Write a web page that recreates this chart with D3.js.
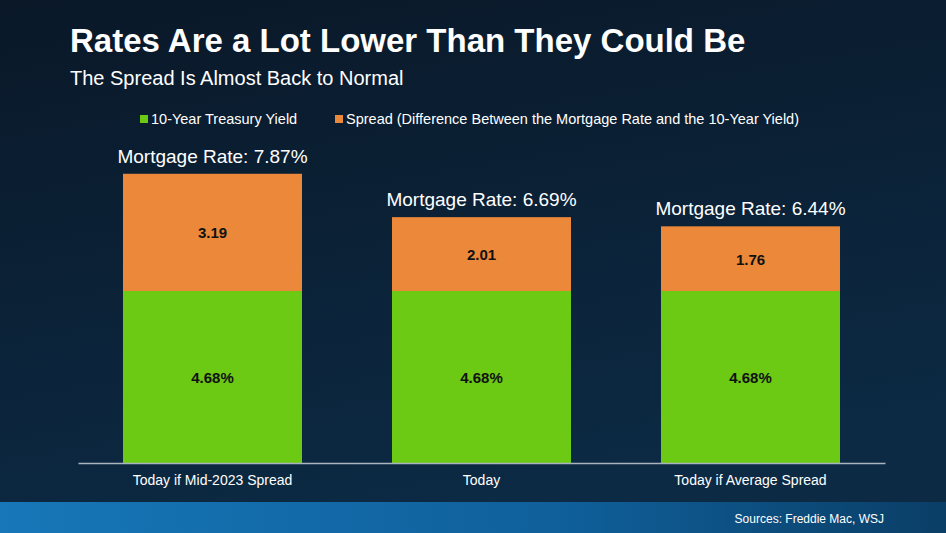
<!DOCTYPE html>
<html><head><meta charset="utf-8">
<script src="https://cdn.jsdelivr.net/npm/d3@7"></script>
<style>body{margin:0;background:#0b2238}svg{display:block;font-family:"Liberation Sans",Arial,sans-serif}</style>
</head><body><svg id="c" width="946" height="533"></svg>
<script>
const categories=["Today if Mid-2023 Spread","Today","Today if Average Spread"];
const treasury=[4.68,4.68,4.68];
const spread=[3.19,2.01,1.76];
const mortgage=[7.87,6.69,6.44];
const treasuryLabels=["4.68%","4.68%","4.68%"];
const spreadLabels=["3.19","2.01","1.76"];
const seriesNames=["10-Year Treasury Yield","Spread (Difference Between the Mortgage Rate and the 10-Year Yield)"];
const colors=["#6cc914","#ec883a"];

const svg=d3.select("#c");
const defs=svg.append("defs");
const bg=defs.append("linearGradient").attr("id","bg").attr("x1",0).attr("y1",0).attr("x2",0.3).attr("y2",1);
bg.append("stop").attr("offset",0).attr("stop-color","#0a1828");
bg.append("stop").attr("offset",1).attr("stop-color","#0c2a44");
const bb=defs.append("linearGradient").attr("id","bb").attr("x1",0).attr("y1",0).attr("x2",1).attr("y2",0);
bb.append("stop").attr("offset",0).attr("stop-color","#1777b8");
bb.append("stop").attr("offset",0.6).attr("stop-color","#0f5f9a");
bb.append("stop").attr("offset",1).attr("stop-color","#0a3e66");
svg.append("rect").attr("width",946).attr("height",533).attr("fill","url(#bg)");
svg.append("rect").attr("y",502).attr("width",946).attr("height",31).attr("fill","url(#bb)");

svg.append("text").attr("x",70).attr("y",52).attr("fill","#fff").attr("font-size",33).attr("font-weight","bold").text("Rates Are a Lot Lower Than They Could Be");
svg.append("text").attr("x",70).attr("y",85).attr("fill","#fff").attr("font-size",20).text("The Spread Is Almost Back to Normal");

const leg=[{x:140,t:seriesNames[0],c:colors[0]},{x:335,t:seriesNames[1],c:colors[1]}];
leg.forEach(l=>{svg.append("rect").attr("x",l.x).attr("y",115).attr("width",8).attr("height",8).attr("fill",l.c);
svg.append("text").attr("x",l.x+11).attr("y",124).attr("fill","#fff").attr("font-size",14.5).text(l.t);});

const x=d3.scaleBand().domain(categories).range([78,885]).paddingInner(0.3346).paddingOuter(0.1673);
const y=d3.scaleLinear().domain([0,10]).range([463,95.5]);
const g=svg.append("g");
categories.forEach((c,i)=>{
  const bx=x(c),bw=x.bandwidth();
  g.append("rect").attr("x",bx).attr("width",bw).attr("y",y(treasury[i])).attr("height",y(0)-y(treasury[i])).attr("fill",colors[0]);
  g.append("rect").attr("x",bx).attr("width",bw).attr("y",y(treasury[i]+spread[i])).attr("height",y(treasury[i])-y(treasury[i]+spread[i])).attr("fill",colors[1]);
  g.append("text").attr("x",bx+bw/2).attr("y",(y(0)+y(treasury[i]))/2+6).attr("text-anchor","middle").attr("font-size",15).attr("font-weight","bold").attr("fill","#111").text(treasuryLabels[i]);
  g.append("text").attr("x",bx+bw/2).attr("y",(y(treasury[i])+y(treasury[i]+spread[i]))/2+6).attr("text-anchor","middle").attr("font-size",15).attr("font-weight","bold").attr("fill","#111").text(spreadLabels[i]);
  g.append("text").attr("x",bx+bw/2).attr("y",y(mortgage[i])-11).attr("text-anchor","middle").attr("font-size",19).attr("fill","#fff").text("Mortgage Rate: "+mortgage[i].toFixed(2)+"%");
});
const ax=svg.append("g").attr("transform","translate(0,463)").call(d3.axisBottom(x).tickSize(0).tickPadding(12));
ax.select(".domain").attr("stroke","#aab4bf").attr("stroke-width",1.5);
ax.selectAll("text").attr("fill","#fff").attr("font-size",14).attr("font-family","Liberation Sans, Arial, sans-serif");
svg.append("text").attr("x",884).attr("y",523).attr("text-anchor","end").attr("fill","#fff").attr("font-size",12).text("Sources: Freddie Mac, WSJ");
</script></body></html>
